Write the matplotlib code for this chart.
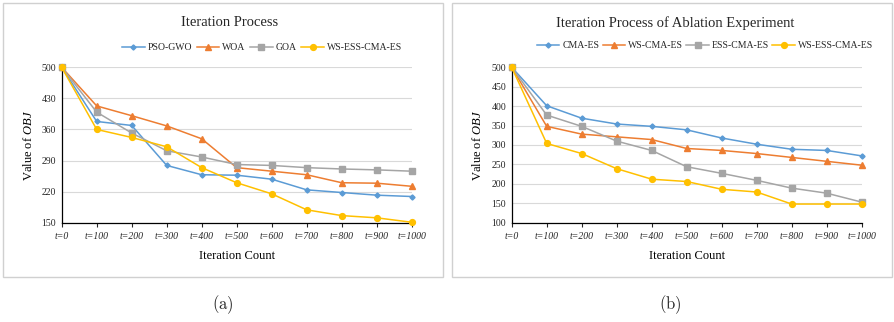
import matplotlib
matplotlib.use("Agg")
import matplotlib.pyplot as plt
from matplotlib.patches import Rectangle

plt.rcParams['font.family'] = ['Liberation Serif', 'DejaVu Serif']
plt.rcParams['mathtext.fontset'] = 'custom'
plt.rcParams['mathtext.rm'] = 'Liberation Serif'
plt.rcParams['mathtext.it'] = 'Liberation Serif:italic'
plt.rcParams['text.color'] = '#262626'
plt.rcParams['xtick.color'] = '#262626'
plt.rcParams['ytick.color'] = '#262626'

# x categories
iters = ['t=0', 't=100', 't=200', 't=300', 't=400', 't=500',
         't=600', 't=700', 't=800', 't=900', 't=1000']

# (a) comparison with other algorithms
pso_gwo = [500, 378, 369, 279, 258, 257, 248, 224, 218, 212, 209]
woa = [500, 413, 391, 368, 339, 274, 266, 258, 240, 239, 232]
goa = [500, 399, 352, 312, 298, 281, 279, 274, 271, 269, 266]
ws_ess_a = [500, 360, 342, 321, 274, 240, 215, 179, 166, 161, 151]

# (b) ablation experiment
cma_es = [500, 401, 369, 354, 348, 339, 318, 302, 289, 286, 272]
ws_cma = [500, 348, 328, 321, 314, 291, 286, 278, 268, 258, 248]
ess_cma = [500, 377, 348, 310, 286, 244, 227, 209, 189, 176, 153]
ws_ess_b = [500, 304, 278, 239, 212, 206, 186, 179, 148, 148, 148]

blue = '#5B9BD5'
orange = '#ED7D31'
gray = '#A5A5A5'
yellow = '#FFC000'

W, H = 895, 322
fig = plt.figure(figsize=(W / 100, H / 100), dpi=100)


def px_axes(left, top, right, bottom):
    return fig.add_axes([left / W, 1 - bottom / H, (right - left) / W, (bottom - top) / H])


def style(ax, yticks):
    x = range(len(iters))
    ax.set_xlim(0, len(iters) - 1)
    ax.set_ylim(yticks[0], yticks[-1])
    ax.set_yticks(yticks)
    ax.set_xticks(list(x))
    ax.set_xticklabels(iters, fontstyle='italic', fontsize=7)
    ax.tick_params(axis='y', length=0, pad=4, labelsize=7)
    ax.tick_params(axis='x', length=3, width=0.8, direction='out', pad=4)
    ax.grid(axis='y', color='#D9D9D9', linewidth=0.8)
    ax.set_axisbelow(True)
    for s in ['top', 'right']:
        ax.spines[s].set_visible(False)
    for s in ['left', 'bottom']:
        ax.spines[s].set_linewidth(0.9)
        ax.spines[s].set_zorder(5)
    ax.set_xlabel('Iteration Count', fontsize=9, labelpad=6)
    ax.set_ylabel('Value of $\\mathit{OBJ}$', fontsize=9, labelpad=5)


def draw(ax, series, labels):
    x = range(len(iters))
    marks = [('D', 2.6), ('^', 4.5), ('s', 4.0), ('o', 4.2)]
    cols = [blue, orange, gray, yellow]
    for y, lab, (m, ms), c in zip(series, labels, marks, cols):
        ax.plot(x, y, color=c, marker=m, markersize=ms, linewidth=1.1,
                label=lab, clip_on=False, zorder=6)


# panel borders
for x0 in [3, 452]:
    fig.patches.append(Rectangle((x0 / W, 1 - 277 / H), 440 / W, 274 / H,
                                 transform=fig.transFigure, fill=False,
                                 edgecolor='#D0D0D0', linewidth=1.0))

# (a)
ax1 = px_axes(61.7, 67.3, 411.7, 222.7)
draw(ax1, [pso_gwo, woa, goa, ws_ess_a], ['PSO-GWO', 'WOA', 'GOA', 'WS-ESS-CMA-ES'])
style(ax1, [150, 220, 290, 360, 430, 500])
fig.text(230 / W, 1 - 23 / H, 'Iteration Process', ha='center', va='center', fontsize=10.5)
ax1.legend(loc='center', bbox_to_anchor=(262 / W, 1 - 48 / H), bbox_transform=fig.transFigure,
           ncol=4, frameon=False, fontsize=7, handlelength=2.3, columnspacing=0.5,
           handletextpad=0.3, borderpad=0)

# (b)
ax2 = px_axes(511.7, 67.3, 861.7, 222.7)
draw(ax2, [cma_es, ws_cma, ess_cma, ws_ess_b], ['CMA-ES', 'WS-CMA-ES', 'ESS-CMA-ES', 'WS-ESS-CMA-ES'])
style(ax2, [100, 150, 200, 250, 300, 350, 400, 450, 500])
fig.text(675 / W, 1 - 23 / H, 'Iteration Process of Ablation Experiment', ha='center',
         va='center', fontsize=10.5)
ax2.legend(loc='center', bbox_to_anchor=(705 / W, 1 - 46 / H), bbox_transform=fig.transFigure,
           ncol=4, frameon=False, fontsize=7, handlelength=2.3, columnspacing=0.35,
           handletextpad=0.3, borderpad=0)

# captions
fig.text(223 / W, 1 - 305 / H, '$\\mathrm{(a)}$', ha='center', va='center', fontsize=12,
         math_fontfamily='cm')
fig.text(670 / W, 1 - 305 / H, '$\\mathrm{(b)}$', ha='center', va='center', fontsize=12,
         math_fontfamily='cm')

fig.savefig('out.png', dpi=100)
